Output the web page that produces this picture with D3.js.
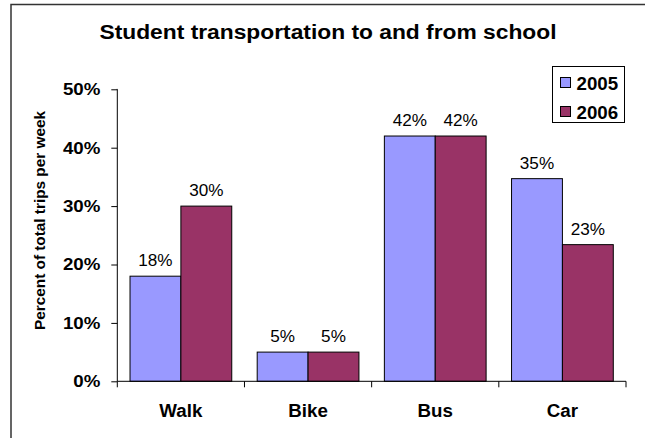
<!DOCTYPE html>
<html>
<head>
<meta charset="utf-8">
<script src="https://cdn.jsdelivr.net/npm/d3@7"></script>
<style>
  html, body { margin: 0; padding: 0; background: #fff; }
  svg { display: block; font-family: "Liberation Sans", Arial, sans-serif; }
</style>
</head>
<body>
<svg id="chart" width="645" height="438"></svg>
<script>
const categories = ["Walk", "Bike", "Bus", "Car"];
const seriesNames = ["2005", "2006"];
const values2005 = [0.18, 0.05, 0.42, 0.347];
const values2006 = [0.30, 0.05, 0.42, 0.234];
const valueLabels2005 = ["18%", "5%", "42%", "35%"];
const valueLabels2006 = ["30%", "5%", "42%", "23%"];
const yTicks = [0, 0.1, 0.2, 0.3, 0.4, 0.5];
const colors = ["#9999FF", "#993366"];

(function () {
const svg = d3.select("#chart");

function stretch(sel, factor) {
  sel.each(function () {
    const len = this.getComputedTextLength();
    d3.select(this).attr("textLength", len * factor).attr("lengthAdjust", "spacingAndGlyphs");
  });
}

// chart frame (cropped at right/bottom)
svg.append("rect")
  .attr("x", 11).attr("y", 4.5).attr("width", 800).attr("height", 600)
  .attr("fill", "none").attr("stroke", "#333").attr("stroke-width", 1.5);

// title
const title = svg.append("text")
  .attr("x", 328).attr("y", 39.3)
  .attr("text-anchor", "middle")
  .attr("font-size", 20).attr("font-weight", "bold")
  .text("Student transportation to and from school");
title.attr("textLength", 457).attr("lengthAdjust", "spacingAndGlyphs");

const pLeft = 117.3, pRight = 626, pTop = 89.3, pBottom = 381.3;

const y = d3.scaleLinear().domain([0, 0.5]).range([pBottom, pTop]);
const x0 = d3.scaleBand().domain(categories).range([pLeft, pRight]).padding(0);
const bw = x0.bandwidth();
const x1 = d3.scaleBand().domain(seriesNames).range([0.1 * bw, 0.9 * bw]).padding(0);

const rows = categories.map((c, i) => ({
  cat: c,
  vals: [
    { s: seriesNames[0], v: values2005[i], lab: valueLabels2005[i], color: colors[0] },
    { s: seriesNames[1], v: values2006[i], lab: valueLabels2006[i], color: colors[1] }
  ]
}));

// bars
const groups = svg.append("g").selectAll("g").data(rows).join("g")
  .attr("transform", d => `translate(${x0(d.cat)},0)`);

groups.selectAll("rect").data(d => d.vals).join("rect")
  .attr("x", d => x1(d.s))
  .attr("y", d => y(d.v))
  .attr("width", x1.bandwidth())
  .attr("height", d => y(0) - y(d.v))
  .attr("fill", d => d.color)
  .attr("stroke", "#000").attr("stroke-width", 1);

const vl = groups.selectAll("text").data(d => d.vals).join("text")
  .attr("x", d => x1(d.s) + x1.bandwidth() / 2)
  .attr("y", d => y(d.v) - 10)
  .attr("text-anchor", "middle")
  .attr("font-size", 16)
  .text(d => d.lab);
stretch(vl, 1.07);

// y axis
const yAxis = d3.axisLeft(y).tickValues(yTicks).tickFormat(d3.format(".0%"))
  .tickSize(6).tickPadding(11);
const ya = svg.append("g").attr("transform", `translate(${pLeft},0)`).call(yAxis);
ya.select(".domain").attr("d", `M-0.5,${pTop}H0V${pBottom}`).attr("stroke", "#000");
ya.selectAll(".tick line").attr("stroke", "#000");
ya.selectAll(".tick text")
  .attr("font-size", 17).attr("font-weight", "bold")
  .attr("font-family", "Liberation Sans, Arial, sans-serif")
  .attr("fill", "#000");
stretch(ya.selectAll(".tick text"), 1.1);

// x axis line and boundary ticks
svg.append("line")
  .attr("x1", pLeft).attr("x2", pRight).attr("y1", pBottom).attr("y2", pBottom)
  .attr("stroke", "#000");
const bounds = categories.map(c => x0(c)).concat([pRight]);
svg.append("g").selectAll("line").data(bounds).join("line")
  .attr("x1", d => d).attr("x2", d => d)
  .attr("y1", pBottom).attr("y2", pBottom + 6)
  .attr("stroke", "#000");

const xl = svg.append("g").selectAll("text").data(categories).join("text")
  .attr("x", d => x0(d) + bw / 2)
  .attr("y", 417.3)
  .attr("text-anchor", "middle")
  .attr("font-size", 18).attr("font-weight", "bold")
  .text(d => d);
stretch(xl, 1.04);

// y axis title
const yt = svg.append("text")
  .attr("transform", "translate(44.5,220.5) rotate(-90)")
  .attr("text-anchor", "middle")
  .attr("font-size", 14.5).attr("font-weight", "bold")
  .text("Percent of total trips per week");
yt.attr("textLength", 219).attr("lengthAdjust", "spacingAndGlyphs");

// legend
const lg = svg.append("g");
lg.append("rect")
  .attr("x", 552.5).attr("y", 66.5).attr("width", 72).attr("height", 56)
  .attr("fill", "#fff").attr("stroke", "#000").attr("stroke-width", 1);
const items = lg.selectAll("g").data(seriesNames).join("g")
  .attr("transform", (d, i) => `translate(0,${i * 29})`);
items.append("rect")
  .attr("x", 560.5).attr("y", 77.5).attr("width", 10).attr("height", 10)
  .attr("fill", (d, i) => colors[i]).attr("stroke", "#000").attr("stroke-width", 1);
const lt = items.append("text")
  .attr("x", 576.5).attr("y", 89.5)
  .attr("font-size", 18).attr("font-weight", "bold")
  .text(d => d);
stretch(lt, 1.04);
})();
</script>
</body>
</html>
